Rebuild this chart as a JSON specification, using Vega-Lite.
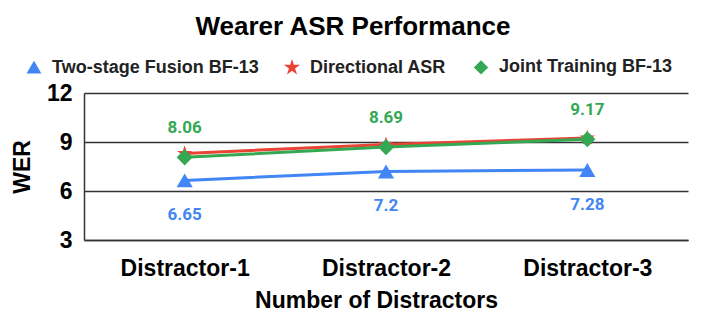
{
  "$schema": "https://vega.github.io/schema/vega-lite/v6.json",
  "width": 604,
  "height": 147,
  "autosize": {"type": "none"},
  "padding": {"left": 84, "top": 93, "right": 18, "bottom": 80},
  "background": "white",
  "title": {
    "text": "Wearer ASR Performance",
    "font": "Liberation Sans",
    "fontSize": 26,
    "fontWeight": "bold",
    "color": "#000000",
    "anchor": "middle",
    "dx": -33,
    "offset": 18
  },
  "data": {
    "values": [
      {"d": "Distractor-1", "s": "Two-stage Fusion BF-13", "v": 6.65},
      {"d": "Distractor-2", "s": "Two-stage Fusion BF-13", "v": 7.2},
      {"d": "Distractor-3", "s": "Two-stage Fusion BF-13", "v": 7.28},
      {"d": "Distractor-1", "s": "Directional ASR", "v": 8.3},
      {"d": "Distractor-2", "s": "Directional ASR", "v": 8.85},
      {"d": "Distractor-3", "s": "Directional ASR", "v": 9.25},
      {"d": "Distractor-1", "s": "Joint Training BF-13", "v": 8.06},
      {"d": "Distractor-2", "s": "Joint Training BF-13", "v": 8.69},
      {"d": "Distractor-3", "s": "Joint Training BF-13", "v": 9.17}
    ]
  },
  "encoding": {
    "x": {
      "field": "d",
      "type": "nominal",
      "scale": {"type": "point", "padding": 0.5},
      "axis": {
        "title": "Number of Distractors",
        "titleFont": "Liberation Sans",
        "titleFontSize": 23,
        "titleFontWeight": "bold",
        "titleColor": "#000",
        "titlePadding": 9,
        "titleX": 292,
        "labelFont": "Liberation Sans",
        "labelFontSize": 23,
        "labelFontWeight": "bold",
        "labelColor": "#000",
        "labelAngle": 0,
        "labelPadding": 17,
        "ticks": false,
        "grid": false,
        "domainColor": "#333",
        "domainWidth": 1.5
      }
    },
    "y": {
      "field": "v",
      "type": "quantitative",
      "scale": {"domain": [3, 12], "nice": false, "zero": false},
      "axis": {
        "values": [3, 6, 9, 12],
        "title": "WER",
        "titleFont": "Liberation Sans",
        "titleFontSize": 23,
        "titleFontWeight": "bold",
        "titleColor": "#000",
        "titlePadding": 12,
        "labelFont": "Liberation Sans",
        "labelFontSize": 23,
        "labelFontWeight": "bold",
        "labelColor": "#000",
        "labelPadding": 12,
        "ticks": false,
        "grid": true,
        "gridColor": "#333",
        "gridWidth": 1.5,
        "domainColor": "#333",
        "domainWidth": 1.5
      }
    },
    "color": {
      "field": "s",
      "type": "nominal",
      "scale": {
        "domain": ["Two-stage Fusion BF-13", "Directional ASR", "Joint Training BF-13"],
        "range": ["#4285F4", "#EA4335", "#34A853"]
      },
      "legend": {
        "title": null,
        "orient": "none",
        "direction": "horizontal",
        "legendX": -59,
        "legendY": -35,
        "labelFont": "Liberation Sans",
        "labelFontSize": 18,
        "labelFontWeight": "bold",
        "labelColor": "#222",
        "labelLimit": 0,
        "symbolSize": 150,
        "symbolType": "circle",
        "labelOffset": 9,
        "columnPadding": 24
      }
    },
    "shape": {
      "field": "s",
      "type": "nominal",
      "scale": {
        "domain": ["Two-stage Fusion BF-13", "Directional ASR", "Joint Training BF-13"],
        "range": ["triangle-up", "M0,-1L0.2245,-0.309L0.951,-0.309L0.363,0.118L0.588,0.809L0,0.382L-0.588,0.809L-0.363,0.118L-0.951,-0.309L-0.2245,-0.309Z", "M0,-1L1,0L0,1L-1,0Z"]
      },
      "legend": {
        "title": null,
        "orient": "none",
        "direction": "horizontal",
        "legendX": -59,
        "legendY": -35,
        "labelFont": "Liberation Sans",
        "labelFontSize": 18,
        "labelFontWeight": "bold",
        "labelColor": "#222",
        "labelLimit": 0,
        "symbolSize": 150,
        "symbolType": "circle",
        "labelOffset": 9,
        "columnPadding": 24
      }
    }
  },
  "layer": [
    {
      "mark": {"type": "line", "strokeWidth": 3},
      "encoding": {"shape": {"value": "circle"}}
    },
    {
      "mark": {"type": "point", "filled": true, "opacity": 1, "size": 260}
    },
    {
      "transform": [{"filter": "datum.s === 'Joint Training BF-13'"}],
      "mark": {"type": "text", "dy": -29, "font": "Roboto", "fontSize": 17, "fontWeight": "bold", "color": "#34A853"},
      "encoding": {"text": {"field": "v", "type": "quantitative"}, "color": {"value": "#34A853"}, "shape": {"value": "circle"}}
    },
    {
      "transform": [{"filter": "datum.s === 'Two-stage Fusion BF-13'"}],
      "mark": {"type": "text", "dy": 35, "font": "Roboto", "fontSize": 17, "fontWeight": "bold", "color": "#4285F4"},
      "encoding": {"text": {"field": "v", "type": "quantitative"}, "color": {"value": "#4285F4"}, "shape": {"value": "circle"}}
    }
  ],
  "config": {"view": {"stroke": null}}
}
